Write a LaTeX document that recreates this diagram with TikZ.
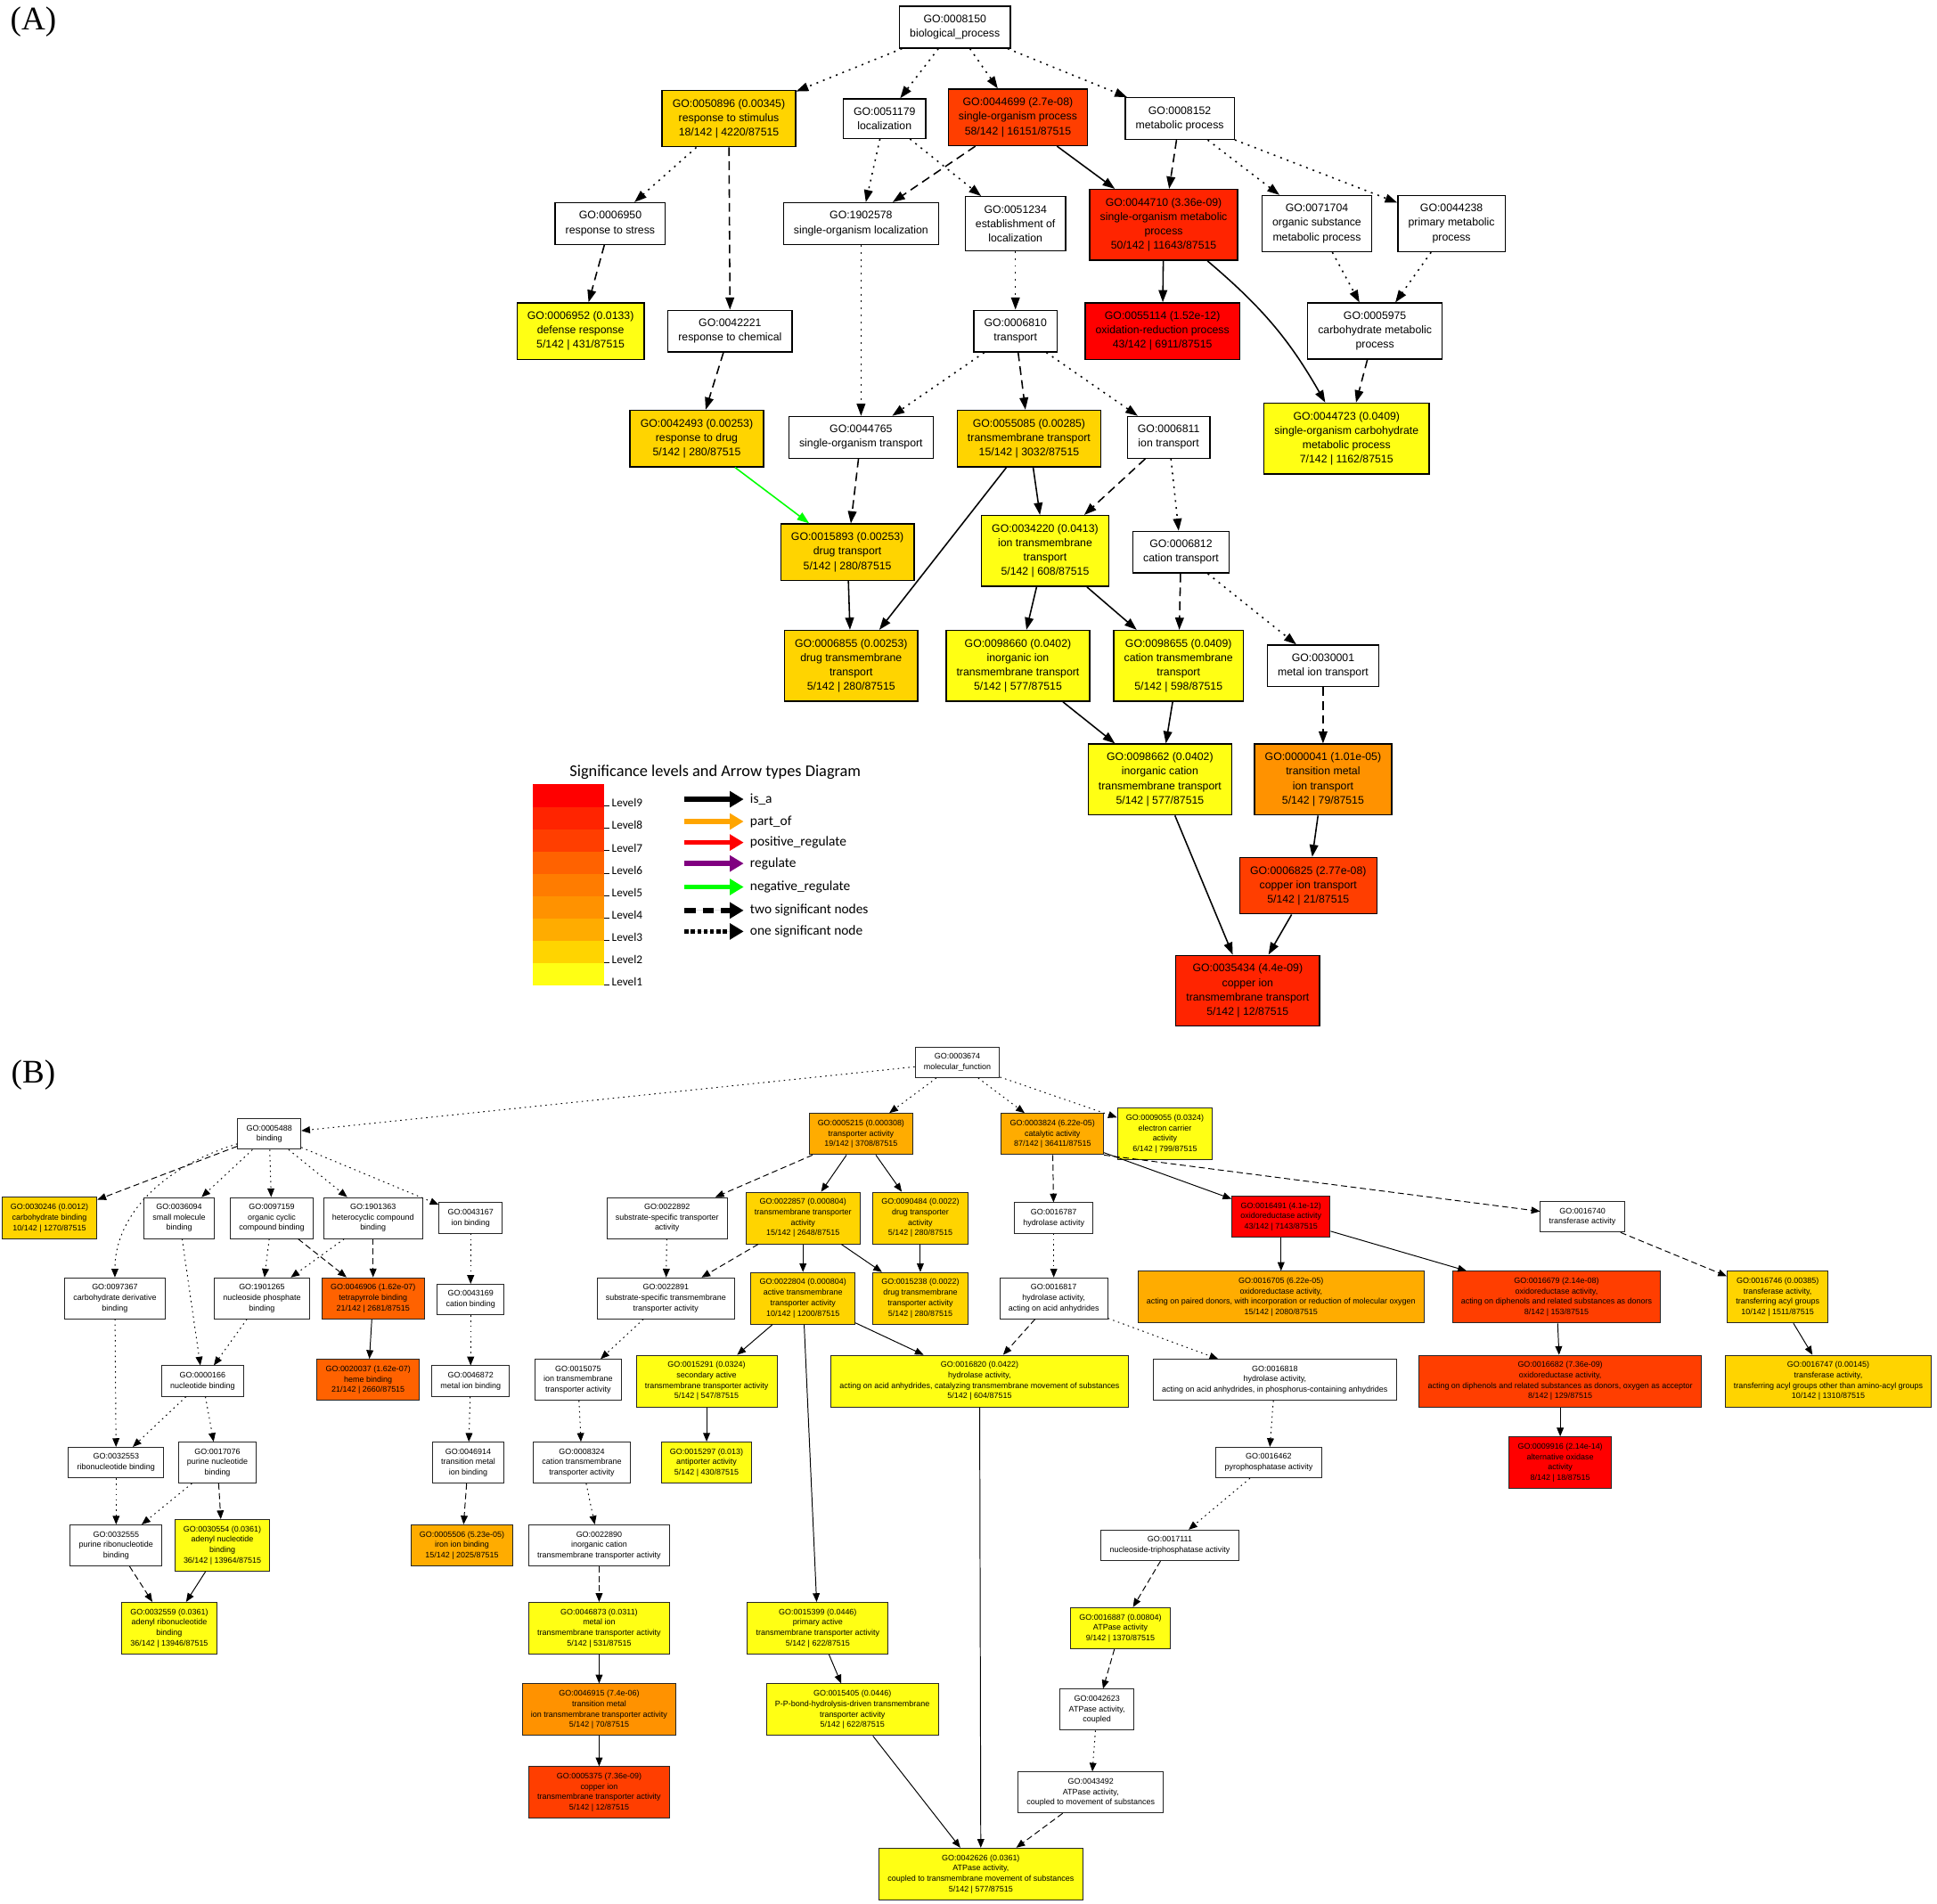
\documentclass[tikz,border=0pt]{standalone}
\usepackage{fontspec}
\setmainfont{Liberation Sans}
\newfontfamily\legendfont{Carlito}
\newfontfamily\panelfont{Liberation Serif}
\usetikzlibrary{arrows.meta}

\definecolor{level1}{RGB}{255,255,20}
\definecolor{level2}{RGB}{255,212,0}
\definecolor{level3}{RGB}{255,172,0}
\definecolor{level4}{RGB}{255,146,0}
\definecolor{level5}{RGB}{255,124,0}
\definecolor{level6}{RGB}{255,98,0}
\definecolor{level7}{RGB}{255,62,0}
\definecolor{level8}{RGB}{255,36,0}
\definecolor{level9}{RGB}{255,0,0}
\definecolor{partof}{RGB}{255,165,0}
\definecolor{regulate}{RGB}{128,0,128}
\definecolor{negreg}{RGB}{0,255,0}

\begin{document}
\begin{tikzpicture}[
        x=0.025cm,
        y=-0.025cm,
        go-a/.style={
            draw,
            rectangle,
            align=center,
            line width=0.7pt,
            inner xsep=6pt,
            inner ysep=5pt,
            font=\fontsize{6.3}{8.3}\selectfont,
        },
        go-b/.style={
            draw=black!85,
            rectangle,
            align=center,
            line width=0.5pt,
            inner xsep=5pt,
            inner ysep=3.7pt,
            font=\fontsize{4.6}{6}\selectfont,
        },
        lv/.style={
            fill=level#1,
        },
        link-solid-a/.style={
            line width=0.8pt,
            -{Triangle[length=7pt,width=5pt]},
        },
        link-two-a/.style={
            link-solid-a,
            dash pattern=on 5pt off 3pt,
        },
        link-one-a/.style={
            link-solid-a,
            dash pattern=on 1pt off 3pt,
        },
        link-solid-b/.style={
            line width=0.5pt,
            -{Triangle[length=5pt,width=4pt]},
        },
        link-two-b/.style={
            link-solid-b,
            dash pattern=on 3.5pt off 2pt,
        },
        link-one-b/.style={
            link-solid-b,
            dash pattern=on 0.8pt off 2.2pt,
        },
        key/.style={
            line width=2.8pt,
            -{Triangle[length=8pt,width=9pt]},
        },
        key-dash/.style={
            dash pattern=on 6.5pt off 4pt,
        },
        key-dot/.style={
            dash pattern=on 2.3pt off 1.4pt,
        },
        key-text/.style={
            anchor=west,
            inner sep=0pt,
            font=\legendfont\fontsize{7.9}{9}\selectfont,
        },
        panel-label/.style={
            font=\panelfont\fontsize{19}{22}\selectfont,
        },
    ]
    \useasboundingbox (0,0) rectangle (1568,1541);

    % Panel labels.
    \node[panel-label] (panelA) at (27,18) {(A)};
    \node[panel-label] (panelB) at (27,870) {(B)};

    % Panel A: biological process.
    \node[go-a] (go0008150) at (773,22) {GO:0008150\\biological\_process};
    \node[go-a, lv=2] (go0050896) at (590,96) {GO:0050896 (0.00345)\\response to stimulus\\18/142 | 4220/87515};
    \node[go-a] (go0051179) at (716,96) {GO:0051179\\localization};
    \node[go-a, lv=7] (go0044699) at (824,95) {GO:0044699 (2.7e-08)\\single-organism process\\58/142 | 16151/87515};
    \node[go-a] (go0008152) at (955,96) {GO:0008152\\metabolic process};
    \node[go-a] (go0006950) at (494,181) {GO:0006950\\response to stress};
    \node[go-a] (go1902578) at (697,181) {GO:1902578\\single-organism localization};
    \node[go-a] (go0051234) at (822,181) {GO:0051234\\establishment of\\localization};
    \node[go-a, lv=8] (go0044710) at (942,182) {GO:0044710 (3.36e-09)\\single-organism metabolic\\process\\50/142 | 11643/87515};
    \node[go-a] (go0071704) at (1066,181) {GO:0071704\\organic substance\\metabolic process};
    \node[go-a] (go0044238) at (1175,181) {GO:0044238\\primary metabolic\\process};
    \node[go-a, lv=1] (go0006952) at (470,268) {GO:0006952 (0.0133)\\defense response\\5/142 | 431/87515};
    \node[go-a] (go0042221) at (591,268) {GO:0042221\\response to chemical};
    \node[go-a] (go0006810) at (822,268) {GO:0006810\\transport};
    \node[go-a, lv=9] (go0055114) at (941,268) {GO:0055114 (1.52e-12)\\oxidation-reduction process\\43/142 | 6911/87515};
    \node[go-a] (go0005975) at (1113,268) {GO:0005975\\carbohydrate metabolic\\process};
    \node[go-a, lv=2] (go0042493) at (564,355) {GO:0042493 (0.00253)\\response to drug\\5/142 | 280/87515};
    \node[go-a] (go0044765) at (697,354) {GO:0044765\\single-organism transport};
    \node[go-a, lv=2] (go0055085) at (833,355) {GO:0055085 (0.00285)\\transmembrane transport\\15/142 | 3032/87515};
    \node[go-a] (go0006811) at (946,354) {GO:0006811\\ion transport};
    \node[go-a, lv=1] (go0044723) at (1090,355) {GO:0044723 (0.0409)\\single-organism carbohydrate\\metabolic process\\7/142 | 1162/87515};
    \node[go-a, lv=2] (go0015893) at (686,447) {GO:0015893 (0.00253)\\drug transport\\5/142 | 280/87515};
    \node[go-a, lv=1] (go0034220) at (846,446) {GO:0034220 (0.0413)\\ion transmembrane\\transport\\5/142 | 608/87515};
    \node[go-a] (go0006812) at (956,447) {GO:0006812\\cation transport};
    \node[go-a, lv=2] (go0006855) at (689,539) {GO:0006855 (0.00253)\\drug transmembrane\\transport\\5/142 | 280/87515};
    \node[go-a, lv=1] (go0098660) at (824,539) {GO:0098660 (0.0402)\\inorganic ion\\transmembrane transport\\5/142 | 577/87515};
    \node[go-a, lv=1] (go0098655) at (954,539) {GO:0098655 (0.0409)\\cation transmembrane\\transport\\5/142 | 598/87515};
    \node[go-a] (go0030001) at (1071,539) {GO:0030001\\metal ion transport};
    \node[go-a, lv=1] (go0098662) at (939,631) {GO:0098662 (0.0402)\\inorganic cation\\transmembrane transport\\5/142 | 577/87515};
    \node[go-a, lv=4] (go0000041) at (1071,631) {GO:0000041 (1.01e-05)\\transition metal\\ion transport\\5/142 | 79/87515};
    \node[go-a, lv=7] (go0006825) at (1059,717) {GO:0006825 (2.77e-08)\\copper ion transport\\5/142 | 21/87515};
    \node[go-a, lv=8] (go0035434) at (1010,802) {GO:0035434 (4.4e-09)\\copper ion\\transmembrane transport\\5/142 | 12/87515};

    % Panel A edges.
    \foreach \a/\b in {0044699/0044710, 0044710/0055114, 0055085/0034220,
            0055085/0006855, 0015893/0006855, 0034220/0098660, 0034220/0098655,
            0098660/0098662, 0098655/0098662, 0098662/0035434, 0000041/0006825,
            0006825/0035434}
    \draw[link-solid-a] (go\a) -- (go\b);

    \foreach \a/\b in {0050896/0042221, 0044699/1902578, 0008152/0044710,
            0006950/0006952, 0042221/0042493, 0005975/0044723, 0006810/0055085,
            0044765/0015893, 0006811/0034220, 0006812/0098655, 0030001/0000041}
    \draw[link-two-a] (go\a) -- (go\b);

    \foreach \a/\b in {0008150/0050896, 0008150/0051179, 0008150/0044699,
            0008150/0008152, 0050896/0006950, 0051179/1902578, 0051179/0051234,
            0008152/0071704, 0008152/0044238, 0051234/0006810, 0071704/0005975,
            0044238/0005975, 1902578/0044765, 0006810/0044765, 0006810/0006811,
            0006811/0006812, 0006812/0030001}
    \draw[link-one-a] (go\a) -- (go\b);

    \draw[link-solid-a] (go0044710) to[bend left=10] (go0044723);
    \draw[link-solid-a, draw=negreg, fill=negreg] (go0042493) -- (go0015893);

    % Legend.
    \node[font=\legendfont\fontsize{9.4}{11}\selectfont] (legtitle) at (579,625)
        {Significance levels and Arrow types Diagram};
    \foreach \i in {1,...,9} {
        \pgfmathsetmacro{\top}{635+18.11*(9-\i)}
        \fill[level\i] (431,\top) rectangle (489,\top+18.11);
        \draw[line width=0.5pt] (489,\top+17.5) -- (493,\top+17.5);
        \node[key-text, font=\legendfont\fontsize{6.8}{8}\selectfont]
            (lev\i) at (495,\top+15) {Level\i};
    }
    \foreach \k/\y/\c/\p/\t in {
            1/647/black/solid/is\_a,
            2/665/partof/solid/part\_of,
            3/682/red/solid/positive\_regulate,
            4/699/regulate/solid/regulate,
            5/718/negreg/solid/negative\_regulate,
            6/737/black/key-dash/two significant nodes,
            7/754/black/key-dot/one significant node} {
        \coordinate (kf\k) at (554,\y);
        \coordinate (kt\k) at (602,\y);
        \draw[key, draw=\c, fill=\c, \p] (kf\k) -- (kt\k);
        \node[key-text] (kl\k) at (607,\y) {\t};
    }

    % Panel B: molecular function.
    \node[go-b] (go0003674) at (775,860) {GO:0003674\\molecular\_function};
    \node[go-b] (go0005488) at (218,918) {GO:0005488\\binding};
    \node[go-b, lv=3] (go0005215) at (697,918) {GO:0005215 (0.000308)\\transporter activity\\19/142 | 3708/87515};
    \node[go-b, lv=3] (go0003824) at (852,918) {GO:0003824 (6.22e-05)\\catalytic activity\\87/142 | 36411/87515};
    \node[go-b, lv=1] (go0009055) at (943,918) {GO:0009055 (0.0324)\\electron carrier\\activity\\6/142 | 799/87515};
    \node[go-b, lv=2] (go0030246) at (40,986) {GO:0030246 (0.0012)\\carbohydrate binding\\10/142 | 1270/87515};
    \node[go-b] (go0036094) at (145,986) {GO:0036094\\small molecule\\binding};
    \node[go-b] (go0097159) at (220,986) {GO:0097159\\organic cyclic\\compound binding};
    \node[go-b] (go1901363) at (302,986) {GO:1901363\\heterocyclic compound\\binding};
    \node[go-b] (go0043167) at (381,986) {GO:0043167\\ion binding};
    \node[go-b] (go0022892) at (540,986) {GO:0022892\\substrate-specific transporter\\activity};
    \node[go-b, lv=2] (go0022857) at (650,986) {GO:0022857 (0.000804)\\transmembrane transporter\\activity\\15/142 | 2648/87515};
    \node[go-b, lv=2] (go0090484) at (745,986) {GO:0090484 (0.0022)\\drug transporter\\activity\\5/142 | 280/87515};
    \node[go-b] (go0016787) at (853,986) {GO:0016787\\hydrolase activity};
    \node[go-b, lv=9] (go0016491) at (1037,985) {GO:0016491 (4.1e-12)\\oxidoreductase activity\\43/142 | 7143/87515};
    \node[go-b] (go0016740) at (1281,985) {GO:0016740\\transferase activity};
    \node[go-b] (go0097367) at (93,1051) {GO:0097367\\carbohydrate derivative\\binding};
    \node[go-b] (go1901265) at (212,1051) {GO:1901265\\nucleoside phosphate\\binding};
    \node[go-b, lv=6] (go0046906) at (302,1051) {GO:0046906 (1.62e-07)\\tetrapyrrole binding\\21/142 | 2681/87515};
    \node[go-b] (go0043169) at (381,1052) {GO:0043169\\cation binding};
    \node[go-b] (go0022891) at (539,1051) {GO:0022891\\substrate-specific transmembrane\\transporter activity};
    \node[go-b, lv=2] (go0022804) at (650,1051) {GO:0022804 (0.000804)\\active transmembrane\\transporter activity\\10/142 | 1200/87515};
    \node[go-b, lv=2] (go0015238) at (745,1051) {GO:0015238 (0.0022)\\drug transmembrane\\transporter activity\\5/142 | 280/87515};
    \node[go-b] (go0016817) at (853,1051) {GO:0016817\\hydrolase activity,\\acting on acid anhydrides};
    \node[go-b, lv=3] (go0016705) at (1037,1050) {GO:0016705 (6.22e-05)\\oxidoreductase activity,\\acting on paired donors, with incorporation or reduction of molecular oxygen\\15/142 | 2080/87515};
    \node[go-b, lv=7] (go0016679) at (1260,1050) {GO:0016679 (2.14e-08)\\oxidoreductase activity,\\acting on diphenols and related substances as donors\\8/142 | 153/87515};
    \node[go-b, lv=2] (go0016746) at (1439,1050) {GO:0016746 (0.00385)\\transferase activity,\\transferring acyl groups\\10/142 | 1511/87515};
    \node[go-b] (go0000166) at (164,1118) {GO:0000166\\nucleotide binding};
    \node[go-b, lv=6] (go0020037) at (298,1117) {GO:0020037 (1.62e-07)\\heme binding\\21/142 | 2660/87515};
    \node[go-b] (go0046872) at (381,1118) {GO:0046872\\metal ion binding};
    \node[go-b] (go0015075) at (468,1117) {GO:0015075\\ion transmembrane\\transporter activity};
    \node[go-b, lv=1] (go0015291) at (572,1118) {GO:0015291 (0.0324)\\secondary active\\transmembrane transporter activity\\5/142 | 547/87515};
    \node[go-b, lv=1] (go0016820) at (793,1118) {GO:0016820 (0.0422)\\hydrolase activity,\\acting on acid anhydrides, catalyzing transmembrane movement of substances\\5/142 | 604/87515};
    \node[go-b] (go0016818) at (1032,1117) {GO:0016818\\hydrolase activity,\\acting on acid anhydrides, in phosphorus-containing anhydrides};
    \node[go-b, lv=7] (go0016682) at (1263,1118) {GO:0016682 (7.36e-09)\\oxidoreductase activity,\\acting on diphenols and related substances as donors, oxygen as acceptor\\8/142 | 129/87515};
    \node[go-b, lv=2] (go0016747) at (1480,1118) {GO:0016747 (0.00145)\\transferase activity,\\transferring acyl groups other than amino-acyl groups\\10/142 | 1310/87515};
    \node[go-b] (go0032553) at (94,1184) {GO:0032553\\ribonucleotide binding};
    \node[go-b] (go0017076) at (176,1184) {GO:0017076\\purine nucleotide\\binding};
    \node[go-b] (go0046914) at (379,1184) {GO:0046914\\transition metal\\ion binding};
    \node[go-b] (go0008324) at (471,1184) {GO:0008324\\cation transmembrane\\transporter activity};
    \node[go-b, lv=1] (go0015297) at (572,1184) {GO:0015297 (0.013)\\antiporter activity\\5/142 | 430/87515};
    \node[go-b] (go0016462) at (1027,1184) {GO:0016462\\pyrophosphatase activity};
    \node[go-b, lv=9] (go0009916) at (1263,1184) {GO:0009916 (2.14e-14)\\alternative oxidase\\activity\\8/142 | 18/87515};
    \node[go-b] (go0032555) at (94,1251) {GO:0032555\\purine ribonucleotide\\binding};
    \node[go-b, lv=1] (go0030554) at (180,1251) {GO:0030554 (0.0361)\\adenyl nucleotide\\binding\\36/142 | 13964/87515};
    \node[go-b, lv=3] (go0005506) at (374,1251) {GO:0005506 (5.23e-05)\\iron ion binding\\15/142 | 2025/87515};
    \node[go-b] (go0022890) at (485,1251) {GO:0022890\\inorganic cation\\transmembrane transporter activity};
    \node[go-b] (go0017111) at (947,1251) {GO:0017111\\nucleoside-triphosphatase activity};
    \node[go-b, lv=1] (go0032559) at (137,1318) {GO:0032559 (0.0361)\\adenyl ribonucleotide\\binding\\36/142 | 13946/87515};
    \node[go-b, lv=1] (go0046873) at (485,1318) {GO:0046873 (0.0311)\\metal ion\\transmembrane transporter activity\\5/142 | 531/87515};
    \node[go-b, lv=1] (go0015399) at (662,1318) {GO:0015399 (0.0446)\\primary active\\transmembrane transporter activity\\5/142 | 622/87515};
    \node[go-b, lv=1] (go0016887) at (907,1318) {GO:0016887 (0.00804)\\ATPase activity\\9/142 | 1370/87515};
    \node[go-b, lv=4] (go0046915) at (485,1384) {GO:0046915 (7.4e-06)\\transition metal\\ion transmembrane transporter activity\\5/142 | 70/87515};
    \node[go-b, lv=1] (go0015405) at (690,1384) {GO:0015405 (0.0446)\\P-P-bond-hydrolysis-driven transmembrane\\transporter activity\\5/142 | 622/87515};
    \node[go-b] (go0042623) at (888,1384) {GO:0042623\\ATPase activity,\\coupled};
    \node[go-b, lv=7] (go0005375) at (485,1451) {GO:0005375 (7.36e-09)\\copper ion\\transmembrane transporter activity\\5/142 | 12/87515};
    \node[go-b] (go0043492) at (883,1451) {GO:0043492\\ATPase activity,\\coupled to movement of substances};
    \node[go-b, lv=1] (go0042626) at (794,1517) {GO:0042626 (0.0361)\\ATPase activity,\\coupled to transmembrane movement of substances\\5/142 | 577/87515};

    % Panel B edges.
    \foreach \a/\b in {0046906/0020037, 0030554/0032559, 0005215/0022857,
            0005215/0090484, 0022857/0022804, 0022857/0015238, 0090484/0015238,
            0022804/0015291, 0022804/0015399, 0022804/0016820, 0015291/0015297,
            0046873/0046915, 0046915/0005375, 0015399/0015405, 0015405/0042626,
            0016820/0042626, 0003824/0016491, 0016491/0016705, 0016491/0016679,
            0016679/0016682, 0016682/0009916, 0016746/0016747}
    \draw[link-solid-b] (go\a) -- (go\b);

    \foreach \a/\b in {0005488/0030246, 0097159/0046906, 1901363/0046906,
            0017076/0030554, 0046914/0005506, 0032555/0032559, 0005215/0022892,
            0022857/0022891, 0022890/0046873, 0003824/0016787, 0016817/0016820,
            0017111/0016887, 0016887/0042623, 0043492/0042626, 0016740/0016746}
    \draw[link-two-b] (go\a) -- (go\b);

    \foreach \a/\b in {0003674/0005488, 0003674/0005215, 0003674/0003824,
            0003674/0009055, 0005488/0036094, 0005488/0097159, 0005488/1901363,
            0005488/0043167, 0036094/0000166, 0097159/1901265, 1901363/1901265,
            0043167/0043169, 0097367/0032553, 1901265/0000166, 0043169/0046872,
            0000166/0032553, 0000166/0017076, 0046872/0046914, 0032553/0032555,
            0017076/0032555, 0022892/0022891, 0022891/0015075, 0015075/0008324,
            0008324/0022890, 0016787/0016817, 0016817/0016818, 0016818/0016462,
            0016462/0017111, 0042623/0043492}
    \draw[link-one-b] (go\a) -- (go\b);

    \draw[link-two-b] (go0003824.south east) -- (go0016740);
    \draw[link-one-b] (go0005488) .. controls (130,945) and (93,985) .. (go0097367);
\end{tikzpicture}
\end{document}
